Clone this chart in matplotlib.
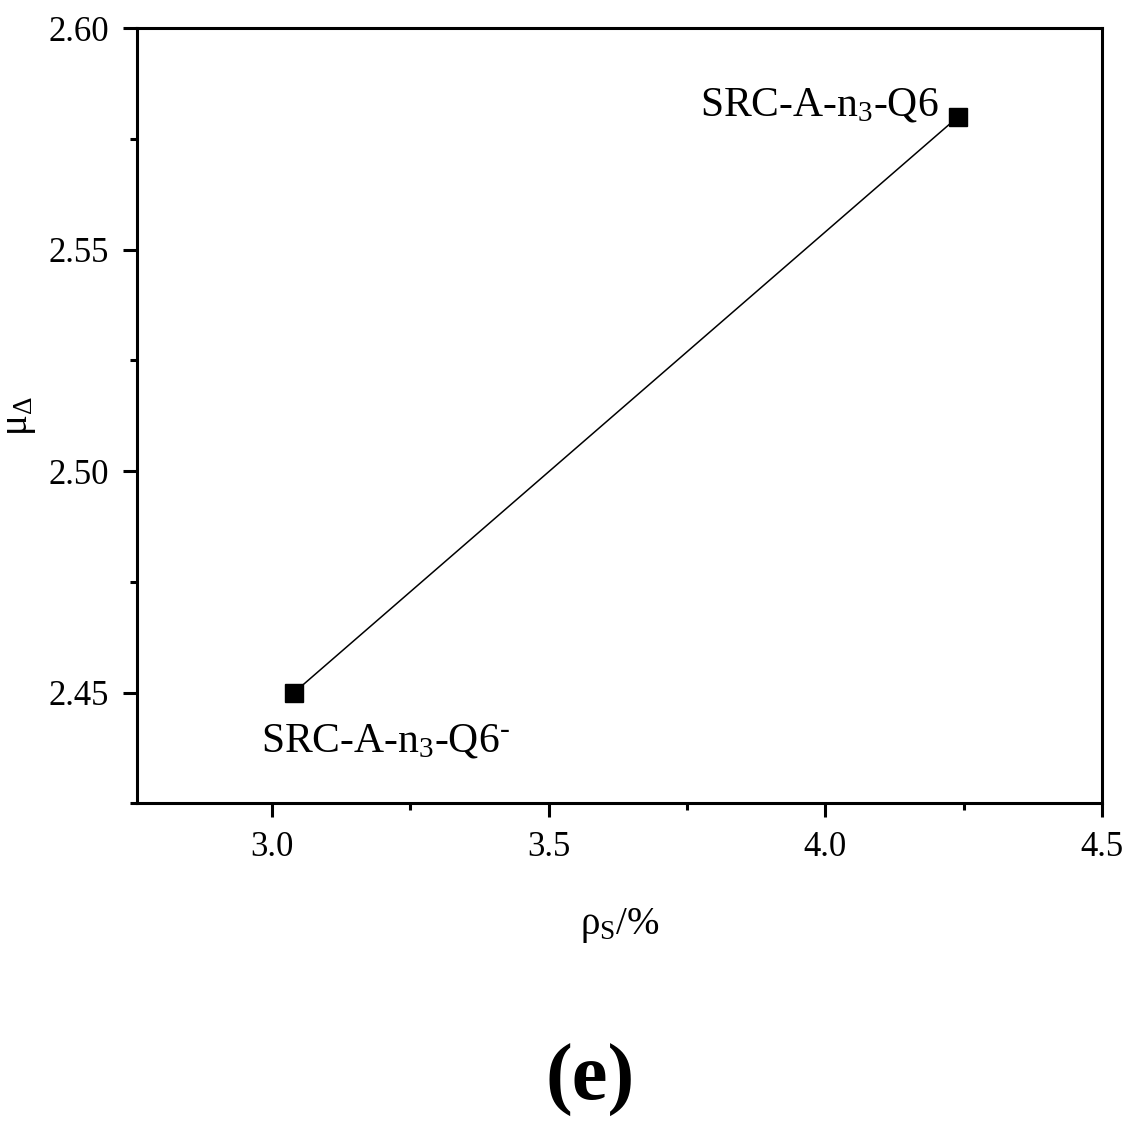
import numpy as np
import matplotlib
matplotlib.use("Agg")
import matplotlib.pyplot as plt
from matplotlib.ticker import MultipleLocator, FormatStrFormatter

plt.rcParams['font.family'] = ['Liberation Serif', 'DejaVu Serif']
plt.rcParams['mathtext.fontset'] = 'custom'
plt.rcParams['mathtext.rm'] = 'Liberation Serif'
plt.rcParams['mathtext.it'] = 'Liberation Serif'
plt.rcParams['mathtext.bf'] = 'Liberation Serif:bold'

# data
rho_s = [3.04, 4.24]
mu_delta = [2.45, 2.58]
names = [r'SRC-A-n$_3$-Q6$^\text{-}$', 'SRC-A-n$_3$-Q6']

fig = plt.figure(figsize=(11.32, 11.25), dpi=100)
ax = fig.add_axes([0.121, 0.286, 0.8525, 0.689])

ax.plot(rho_s, mu_delta, color='black', lw=1.1, marker='s', markersize=13,
        markerfacecolor='black', markeredgecolor='black')

ax.set_xlim(2.756, 4.5)
ax.set_ylim(2.425, 2.60)
ax.xaxis.set_major_locator(MultipleLocator(0.5))
ax.xaxis.set_minor_locator(MultipleLocator(0.25))
ax.yaxis.set_major_locator(MultipleLocator(0.05))
ax.yaxis.set_minor_locator(MultipleLocator(0.025))
ax.xaxis.set_major_formatter(FormatStrFormatter('%.1f'))
ax.yaxis.set_major_formatter(FormatStrFormatter('%.2f'))

ax.tick_params(which='major', direction='out', length=10, width=2.2,
               labelsize=25, pad=10)
ax.tick_params(which='minor', direction='out', length=5, width=2.2)
for s in ax.spines.values():
    s.set_linewidth(2.2)

# point labels
ax.text(4.204, 2.5826, names[1], fontsize=30, ha='right', va='center')
ax.text(2.980, 2.439, names[0], fontsize=30, ha='left', va='center')

ax.set_xlabel(r'$\mathrm{\rho_S}$/%', fontsize=28, labelpad=30)
ax.set_ylabel(r'$\mathrm{\mu_\Delta}$', fontsize=28)
ax.yaxis.set_label_coords(-0.103, 0.5)

fig.text(0.521, 0.04, '(e)', fontsize=58, fontweight='bold',
         ha='center', va='center')

fig.savefig('out.png', dpi=100)
